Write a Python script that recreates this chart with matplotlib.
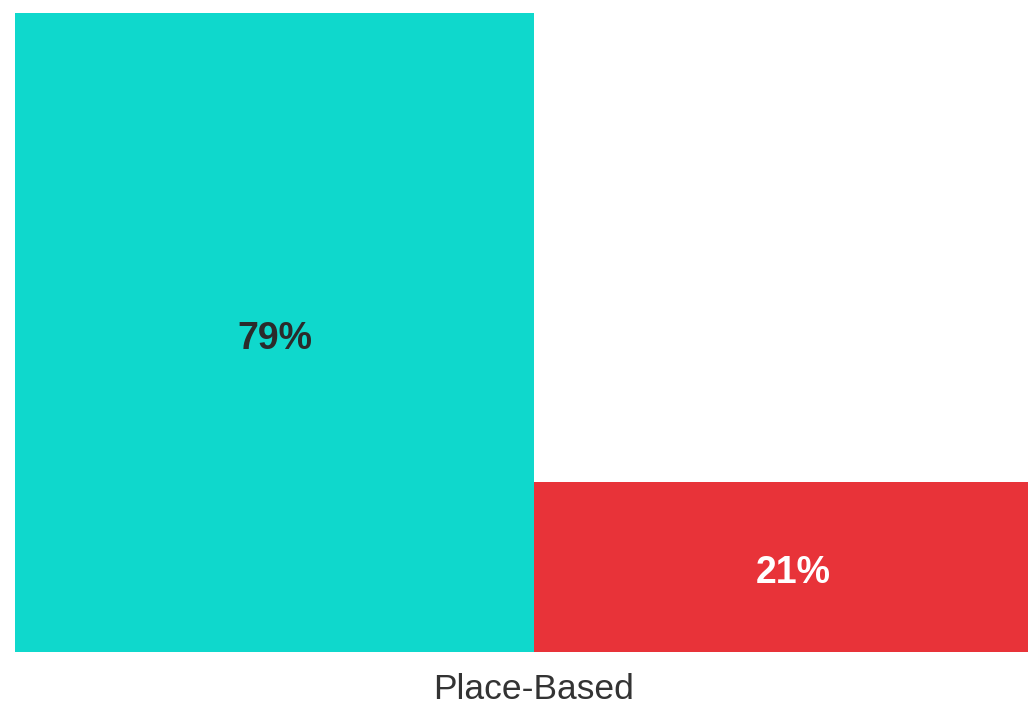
import matplotlib
matplotlib.use("Agg")
import matplotlib.pyplot as plt

plt.rcParams['font.family'] = ['Liberation Sans', 'DejaVu Sans']

category = "Place-Based"
series = ["Yes", "No"]
shares = [79, 21]
colors = ["#0FD8CC", "#E83339"]
label_colors = ["#2B2B2B", "#FFFFFF"]

fig = plt.figure(figsize=(10.28, 7.06), dpi=100)
ax = fig.add_axes([15 / 1028, (706 - 652) / 706, (1028 - 15) / 1028, (652 - 13) / 706])

width = 1.0
offsets = [-0.5, 0.5]
for off, val, col, tc in zip(offsets, shares, colors, label_colors):
    ax.bar(off, val, width=width, color=col, linewidth=0)
    ax.annotate(f"{val}%", xy=(off, val / 2), xytext=(0, -4.5),
                textcoords="offset points", ha="center", va="center",
                fontsize=27, fontweight="bold", color=tc)

ax.set_xlim(-1.0, (1028 - 534) / 519)
ax.set_ylim(0, max(shares))
ax.set_xticks([0])
ax.set_xticklabels([category], fontsize=25.5, color="#333333")
ax.tick_params(axis="x", length=0, pad=15)
ax.set_yticks([])
for s in ax.spines.values():
    s.set_visible(False)

fig.savefig("out.png", dpi=100)
